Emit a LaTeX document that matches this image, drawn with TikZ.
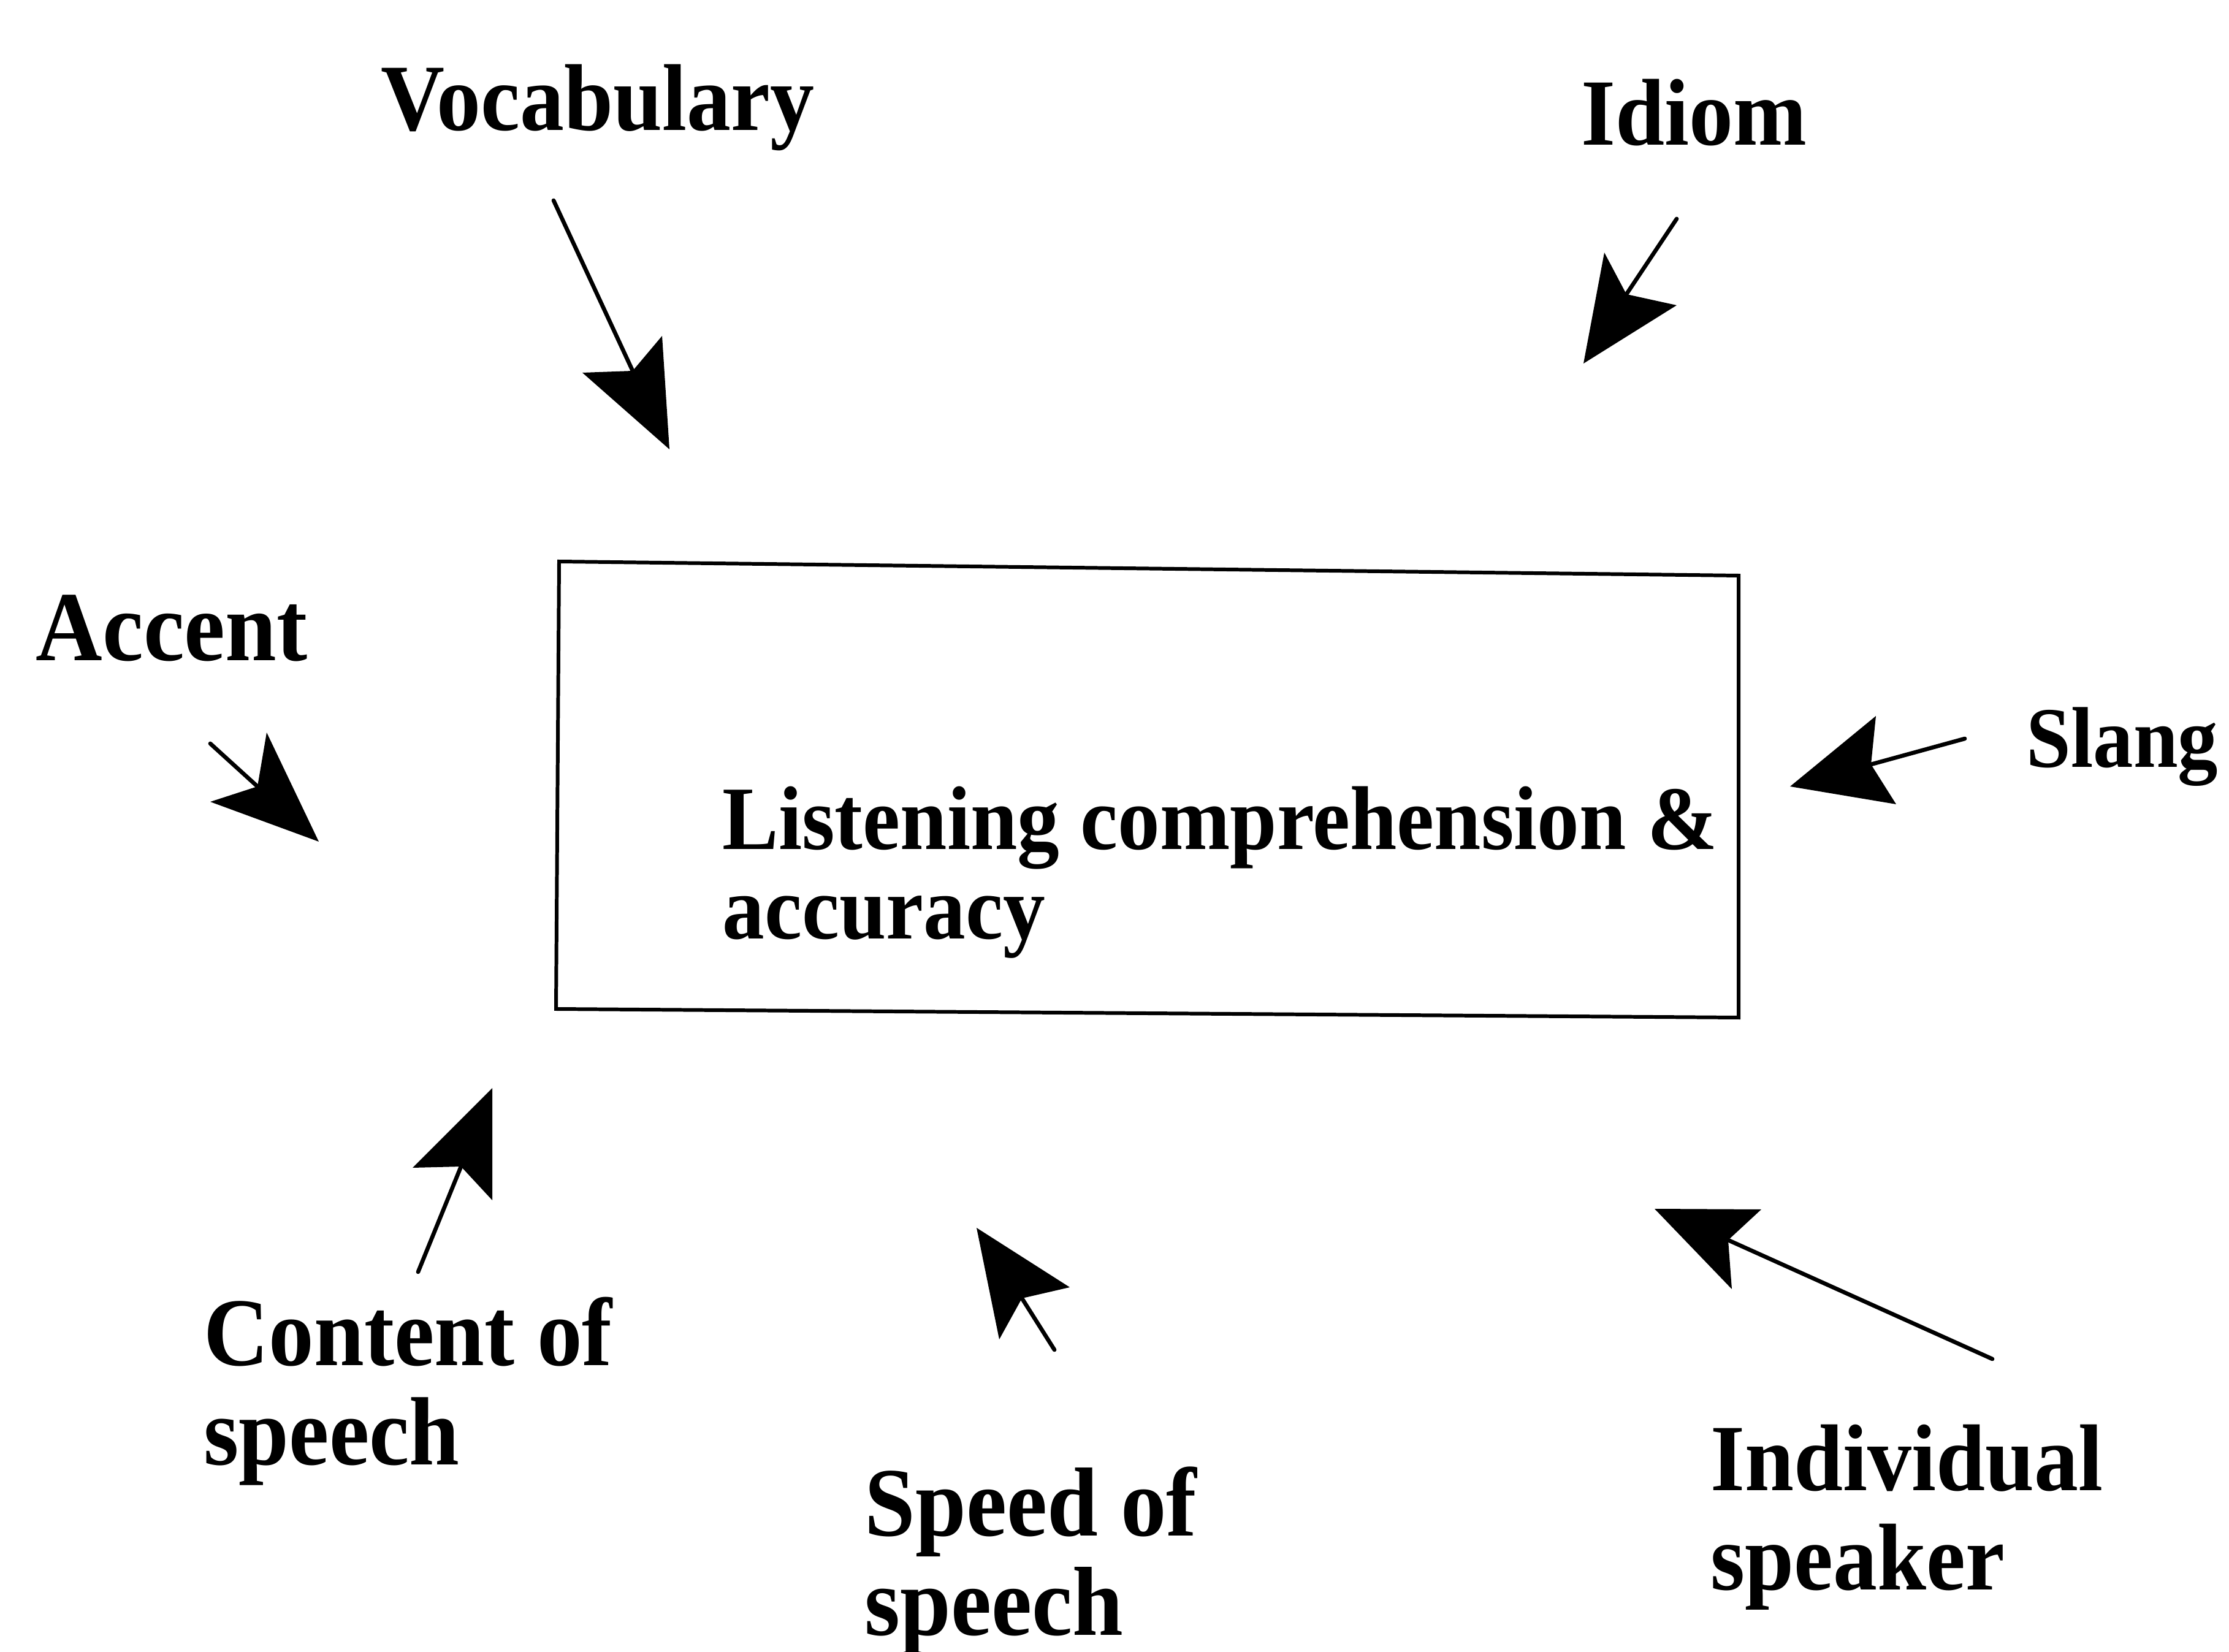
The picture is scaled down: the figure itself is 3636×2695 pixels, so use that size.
\documentclass[tikz,border=0pt]{standalone}
\usepackage{fontspec}
\newfontfamily\lblfont[FakeStretch=0.93]{Liberation Serif Bold}
\begin{document}
\begin{tikzpicture}[x=0.01cm,y=-0.01cm,
  lbl/.style={inner sep=0pt,anchor=base west,align=left,
    font=\lblfont\fontsize{44}{46}\selectfont},
  shaft/.style={line width=1.9pt,line cap=round},
  barb/.style={fill=black}]
\useasboundingbox (0,0) rectangle (3636,2695);

% central box (slightly skewed outline)
\coordinate (bTL) at (912,916);
\coordinate (bTR) at (2836,939);
\coordinate (bBR) at (2836,1660);
\coordinate (bBL) at (907,1646);
\draw[line width=1.7pt,line join=miter] (bTL) -- (bTR) -- (bBR) -- (bBL) -- cycle;
% multi-line labels are placed by the baseline of their last line
\node[lbl,font=\lblfont\fontsize{42}{41.5}\selectfont] (centre) at (1178,1531)
  {Listening comprehension \&\\accuracy};

% surrounding factors
\node[lbl] (voc)  at (621,213)   {Vocabulary};
\node[lbl] (idi)  at (2579,237)  {Idiom};
\node[lbl,font=\lblfont\fontsize{46}{46}\selectfont] (acc) at (58,1078) {Accent};
\node[lbl,font=\lblfont\fontsize{40}{46}\selectfont] (sla) at (3305,1252) {Slang};
\node[lbl,font=\lblfont\fontsize{45}{46}\selectfont] (con) at (332,2389) {Content of\\speech};
\node[lbl,font=\lblfont\fontsize{45.5}{46}\selectfont] (spd) at (1410,2667) {Speed of\\speech};
\node[lbl] (ind)  at (2790,2593) {Individual\\speaker};

% arrow: Vocabulary
\coordinate (vS) at (903,327);   \coordinate (vN) at (1032,605);
\coordinate (vL) at (950,608);   \coordinate (vR) at (1080,548);
\coordinate (vT) at (1092,733);
\draw[shaft] (vS) -- (vN);
\fill[barb] (vT) -- (vL) -- (vN) -- (vR) -- cycle;

% arrow: Idiom
\coordinate (iS) at (2735,357);  \coordinate (iN) at (2653,480);
\coordinate (iL) at (2617,412);  \coordinate (iR) at (2735,498);
\coordinate (iT) at (2583,593);
\draw[shaft] (iS) -- (iN);
\fill[barb] (iT) -- (iL) -- (iN) -- (iR) -- cycle;

% arrow: Accent
\coordinate (aS) at (343,1213);  \coordinate (aN) at (420,1283);
\coordinate (aL) at (435,1195);  \coordinate (aR) at (343,1308);
\coordinate (aT) at (520,1373);
\draw[shaft] (aS) -- (aN);
\fill[barb] (aT) -- (aL) -- (aN) -- (aR) -- cycle;

% arrow: Slang
\coordinate (sS) at (3205,1205); \coordinate (sN) at (3052,1247);
\coordinate (sL) at (3060,1168); \coordinate (sR) at (3093,1312);
\coordinate (sT) at (2920,1283);
\draw[shaft] (sS) -- (sN);
\fill[barb] (sT) -- (sL) -- (sN) -- (sR) -- cycle;

% arrow: Content of speech
\coordinate (cS) at (682,2075);  \coordinate (cN) at (752,1903);
\coordinate (cL) at (673,1905);  \coordinate (cR) at (803,1958);
\coordinate (cT) at (803,1775);
\draw[shaft] (cS) -- (cN);
\fill[barb] (cT) -- (cL) -- (cN) -- (cR) -- cycle;

% arrow: Speed of speech
\coordinate (pS) at (1720,2202); \coordinate (pN) at (1667,2118);
\coordinate (pL) at (1745,2100); \coordinate (pR) at (1630,2185);
\coordinate (pT) at (1593,2003);
\draw[shaft] (pS) -- (pN);
\fill[barb] (pT) -- (pL) -- (pN) -- (pR) -- cycle;

% arrow: Individual speaker
\coordinate (dS) at (3250,2217); \coordinate (dN) at (2819,2023);
\coordinate (dL) at (2873,1973); \coordinate (dR) at (2825,2103);
\coordinate (dT) at (2699,1972);
\draw[shaft] (dS) -- (dN);
\fill[barb] (dT) -- (dL) -- (dN) -- (dR) -- cycle;
\end{tikzpicture}
\end{document}
